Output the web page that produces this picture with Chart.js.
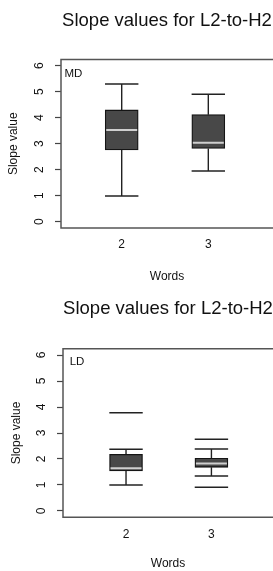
<!DOCTYPE html>
<html><head><meta charset="utf-8">
<script src="https://cdn.jsdelivr.net/npm/chart.js@4"></script>
<style>html,body{margin:0;padding:0;background:#fff;overflow:hidden;width:273px;height:571px}
canvas{display:block;position:absolute;left:0}
#c1{top:0}#c2{top:285px}</style></head>
<body>
<canvas id="c1" width="273" height="285"></canvas>
<canvas id="c2" width="273" height="286"></canvas>
<script>
const categories = [2, 3];
const yTicks = [0, 1, 2, 3, 4, 5, 6];
const titleText = 'Slope values for L2-to-H2';
const xTitle = 'Words';
const yTitle = 'Slope value';
// MD panel
const mdLow = [0.99, 1.95];
const mdQ1 = [2.76, 2.82];
const mdMedian = [3.53, 3.04];
const mdQ3 = [4.30, 4.12];
const mdHigh = [5.30, 4.90];
const mdOutliers = [[], []];
// LD panel
const ldLow = [1.00, 1.35];
const ldQ1 = [1.54, 1.68];
const ldMedian = [1.64, 1.83];
const ldQ3 = [2.18, 2.03];
const ldHigh = [2.37, 2.38];
const ldOutliers = [[3.78], [2.76, 0.91]];

const FONT = '"Liberation Sans", Arial, Helvetica, sans-serif';

function build(canvasId, d, L) {
  const boxes = categories.map((c, i) => ({x: c, y: [d.q1[i], d.q3[i]]}));
  const medians = categories.map((c, i) => ({x: c, y: d.med[i]}));
  const caps = [];
  categories.forEach((c, i) => { caps.push({x: c, y: d.low[i]}); caps.push({x: c, y: d.high[i]}); });
  const outs = [];
  categories.forEach((c, i) => d.out[i].forEach(v => outs.push({x: c, y: v})));
  const whisk = [];
  categories.forEach((c, i) => {
    whisk.push({x: c, y: d.q3[i]}, {x: c, y: d.high[i]}, {x: c, y: null});
    whisk.push({x: c, y: d.q1[i]}, {x: c, y: d.low[i]}, {x: c, y: null});
  });
  const framePlugin = {
    id: 'frame',
    afterDraw(chart) {
      const {ctx, chartArea: a} = chart;
      ctx.save();
      ctx.strokeStyle = '#555';
      ctx.lineWidth = 1.5;
      ctx.beginPath();
      ctx.moveTo(a.right + 2, a.top);
      ctx.lineTo(a.left, a.top);
      ctx.lineTo(a.left, a.bottom);
      ctx.lineTo(a.right + 2, a.bottom);
      ctx.stroke();
      ctx.fillStyle = '#111';
      ctx.font = '11.5px ' + FONT;
      ctx.textBaseline = 'alphabetic';
      ctx.fillText(L.label, a.left + L.labelDx, a.top + L.labelDy);
      ctx.restore();
    }
  };
  return new Chart(document.getElementById(canvasId), {
    data: {
      datasets: [
        {type: 'scatter', data: medians, pointStyle: 'line', pointRadius: 15.5, borderColor: '#cfcfcf', pointBorderWidth: 2, borderWidth: 2, order: 0},
        {type: 'bar', data: boxes, backgroundColor: '#484848', borderColor: '#151515', borderWidth: 1.3, borderSkipped: false, barThickness: 33, order: 1},
        {type: 'scatter', data: caps.concat(outs), pointStyle: 'line', pointRadius: 16.7, borderColor: '#222', pointBorderWidth: 1.5, borderWidth: 1.5, order: 2},
        {type: 'scatter', data: whisk, showLine: true, spanGaps: false, pointRadius: 0, borderColor: '#222', borderWidth: 1.4, order: 3}
      ]
    },
    options: {
      responsive: false,
      animation: false,
      events: [],
      layout: {padding: 0, autoPadding: false},
      plugins: {
        legend: {display: false},
        tooltip: {enabled: false},
        title: {
          display: true, text: titleText, fullSize: false, color: '#111',
          font: {family: FONT, size: 18.5, weight: 'normal', lineHeight: 1.2},
          padding: {top: L.tPadTop, bottom: L.tPadBottom}
        }
      },
      scales: {
        x: {
          type: 'linear', min: L.xMin, max: L.xMax, offset: false,
          afterBuildTicks: s => { s.ticks = categories.map(v => ({value: v})); },
          afterFit: s => { s.height = L.xHeight; },
          grid: {display: true, drawOnChartArea: false, drawTicks: false},
          border: {display: false},
          ticks: {color: '#111', padding: L.xTickPad, font: {family: FONT, size: 12}},
          title: {display: true, text: xTitle, color: '#111', font: {family: FONT, size: 12, lineHeight: 1.2}, padding: {top: 0, bottom: L.xTitlePad}}
        },
        y: {
          type: 'linear', min: -0.24, max: 6.24,
          afterBuildTicks: s => { s.ticks = yTicks.map(v => ({value: v})); },
          afterFit: s => { s.width = L.left; },
          grid: {display: true, drawOnChartArea: false, drawTicks: true, tickLength: 6, tickColor: '#444', tickWidth: 1.2},
          border: {display: false},
          ticks: {color: '#111', padding: 11.6, minRotation: 90, maxRotation: 90, crossAlign: 'center', font: {family: FONT, size: 12}},
          title: {display: true, text: yTitle, color: '#111', font: {family: FONT, size: 12, lineHeight: 1.2}, padding: {top: L.yTitlePad, bottom: 0}}
        }
      }
    },
    plugins: [framePlugin]
  });
}

build('c1', {low: mdLow, q1: mdQ1, med: mdMedian, q3: mdQ3, high: mdHigh, out: mdOutliers},
  {left: 61, xMin: 1.299, xMax: 3.747, xHeight: 57, tPadTop: 9.9, tPadBottom: 27.4, yTitlePad: 6.8, xTickPad: 9, xTitlePad: 1.3, label: 'MD', labelDx: 3.5, labelDy: 17.5});
build('c2', {low: ldLow, q1: ldQ1, med: ldMedian, q3: ldQ3, high: ldHigh, out: ldOutliers},
  {left: 63, xMin: 1.262, xMax: 3.721, xHeight: 53.8, tPadTop: 12.9, tPadBottom: 28.7, yTitlePad: 9.8, xTickPad: 10.5, xTitlePad: 0.3, label: 'LD', labelDx: 6.7, labelDy: 16.2});
</script>
</body></html>
